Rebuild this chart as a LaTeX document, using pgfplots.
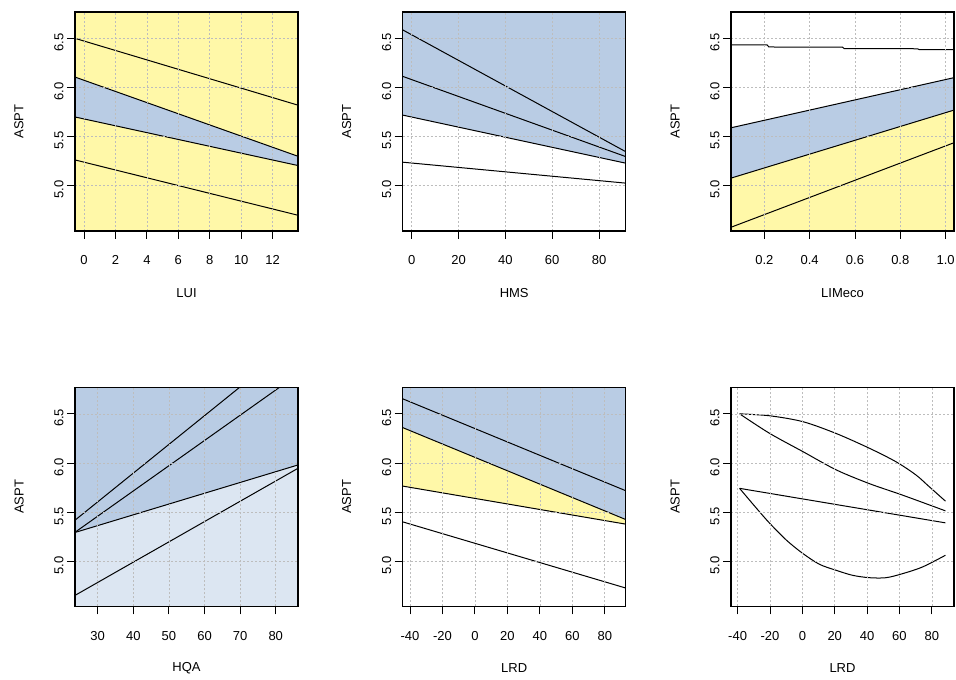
\documentclass[border=0pt]{standalone}
\usepackage{fontspec}
\setmainfont{Liberation Sans}
\usepackage{pgfplots}
\pgfplotsset{compat=1.18}

\definecolor{fillyellow}{HTML}{FFF8A8}
\definecolor{fillblue}{HTML}{B9CCE4}
\definecolor{filllight}{HTML}{DCE6F2}
\definecolor{gridgray}{HTML}{BDBDBD}

\pgfplotsset{
  panel/.style={
    scale only axis, width=223pt, height=219pt,
    anchor=south west,
    ymin=4.54, ymax=6.768,
    ytick={5,5.5,6,6.5},
    axis on top,
    tick align=outside, major tick length=8pt,
    tick pos=left,
    grid=major,
    grid style={gridgray, dash pattern=on 2pt off 2pt, line width=0.6pt},
    axis line style={line width=1.1pt},
    every tick/.style={black, line width=0.9pt},
    font=\fontsize{13}{15.6}\selectfont,
    /pgf/number format/assume math mode=true,
    xticklabel style={yshift=-13pt},
    yticklabel style={rotate=90, anchor=south, xshift=-4pt,
      /pgf/number format/fixed, /pgf/number format/fixed zerofill,
      /pgf/number format/precision=1},
    ylabel={ASPT},
    ylabel style={at={(axis description cs:-0.251,0.5)}, anchor=center},
    xlabel style={at={(axis description cs:0.5,-0.283)}, anchor=center},
  },
  fit/.style={black, line width=1pt, no markers},
  band/.style={draw=none, no markers},
}

\begin{document}
\begin{tikzpicture}
\useasboundingbox (0,0) rectangle (956pt,680pt);

% ---- LUI ----
\begin{axis}[panel, at={(75pt,449pt)}, xmin=-0.57, xmax=13.61,
  xtick={0,2,...,12}, xlabel={LUI},
  axis background/.style={fill=fillyellow}]
  \addplot[band, fill=fillblue] coordinates {(-0.57,6.106) (13.61,5.30) (13.61,5.206) (-0.57,5.70)} -- cycle;
  \addplot[fit] coordinates {(-0.57,6.50) (13.61,5.82)};
  \addplot[fit] coordinates {(-0.57,6.106) (13.61,5.30)};
  \addplot[fit] coordinates {(-0.57,5.70) (13.61,5.206)};
  \addplot[fit] coordinates {(-0.57,5.263) (13.61,4.70)};
\end{axis}

% ---- HMS ----
\begin{axis}[panel, at={(402.7pt,449pt)}, xmin=-3.84, xmax=91.4,
  xtick={0,20,...,80}, xlabel={HMS}]
  \addplot[band, fill=fillblue] coordinates {(-3.84,5.719) (91.4,5.23) (91.4,6.768) (-3.84,6.768)} -- cycle;
  \addplot[fit] coordinates {(-3.84,6.586) (91.4,5.347)};
  \addplot[fit] coordinates {(-3.84,6.113) (91.4,5.297)};
  \addplot[fit] coordinates {(-3.84,5.719) (91.4,5.23)};
  \addplot[fit] coordinates {(-3.84,5.24) (91.4,5.027)};
\end{axis}

% ---- LIMeco ----
\begin{axis}[panel, at={(731pt,449pt)}, xmin=0.053, xmax=1.037,
  xtick={0.2,0.4,...,1.0}, xlabel={LIMeco},
  xticklabel style={/pgf/number format/fixed, /pgf/number format/fixed zerofill,
    /pgf/number format/precision=1}]
  \addplot[band, fill=fillyellow] coordinates {(0.053,5.078) (1.037,5.77) (1.037,4.54) (0.053,4.54)} -- cycle;
  \addplot[band, fill=fillblue] coordinates {(0.053,5.59) (1.037,6.10) (1.037,5.77) (0.053,5.078)} -- cycle;
  \addplot[fit] coordinates {(0.053,6.434) (0.212,6.434) (0.22,6.412) (0.545,6.41)
    (0.553,6.395) (0.876,6.394) (0.884,6.384) (1.037,6.384)};
  \addplot[fit] coordinates {(0.053,5.59) (1.037,6.10)};
  \addplot[fit] coordinates {(0.053,5.078) (1.037,5.77)};
  \addplot[fit] coordinates {(0.053,4.578) (1.037,5.438)};
\end{axis}

% ---- HQA ----
\begin{axis}[panel, at={(75pt,73.5pt)}, xmin=23.64, xmax=86.25,
  xtick={30,40,...,80}, xlabel={HQA}]
  \addplot[band, fill=fillblue] coordinates {(23.64,5.293) (86.25,5.98) (86.25,6.768) (23.64,6.768)} -- cycle;
  \addplot[band, fill=filllight] coordinates {(23.64,5.293) (86.25,5.98) (86.25,4.54) (23.64,4.54)} -- cycle;
  \addplot[fit] coordinates {(23.64,5.418) (86.25,7.249)};
  \addplot[fit] coordinates {(23.64,5.295) (86.25,6.903)};
  \addplot[fit] coordinates {(23.64,5.293) (86.25,5.98)};
  \addplot[fit] coordinates {(23.64,4.653) (86.25,5.946)};
\end{axis}

% ---- LRD ----
\begin{axis}[panel, at={(402.7pt,73.5pt)}, xmin=-44.5, xmax=92.9,
  xtick={-40,-20,...,80}, xlabel={LRD}]
  \addplot[band, fill=fillblue] coordinates {(-44.5,6.36) (92.9,5.425) (92.9,6.768) (-44.5,6.768)} -- cycle;
  \addplot[band, fill=fillyellow] coordinates {(-44.5,6.36) (92.9,5.425) (92.9,5.378) (-44.5,5.765)} -- cycle;
  \addplot[fit] coordinates {(-44.5,6.653) (92.9,5.718)};
  \addplot[fit] coordinates {(-44.5,6.36) (92.9,5.425)};
  \addplot[fit] coordinates {(-44.5,5.765) (92.9,5.378)};
  \addplot[fit] coordinates {(-44.5,5.401) (92.9,4.728)};
\end{axis}

% ---- LRD (smooth terms) ----
\begin{axis}[panel, at={(731pt,73.5pt)}, xmin=-44.1, xmax=93.7,
  xtick={-40,-20,...,80}, xlabel={LRD}]
  \addplot[fit, smooth] coordinates {(-38.8,6.50) (-20.1,6.48) (0.4,6.42) (20.9,6.30)
    (41.4,6.15) (57.8,6.013) (70.2,5.878) (78.3,5.76) (88.4,5.612)};
  \addplot[fit, smooth] coordinates {(-38.8,6.50) (-20.1,6.30) (0.4,6.115) (20.9,5.93)
    (41.4,5.79) (61.9,5.673) (88.4,5.513)};
  \addplot[fit] coordinates {(-38.8,5.742) (88.4,5.391)};
  \addplot[fit, smooth] coordinates {(-38.8,5.742) (-28.3,5.538) (-20.1,5.385) (-9.8,5.214)
    (0.4,5.078) (10.6,4.969) (20.9,4.908) (31.1,4.857) (41.4,4.833) (51.7,4.833)
    (61.9,4.874) (74.2,4.942) (88.4,5.061)};
\end{axis}
\end{tikzpicture}
\end{document}
